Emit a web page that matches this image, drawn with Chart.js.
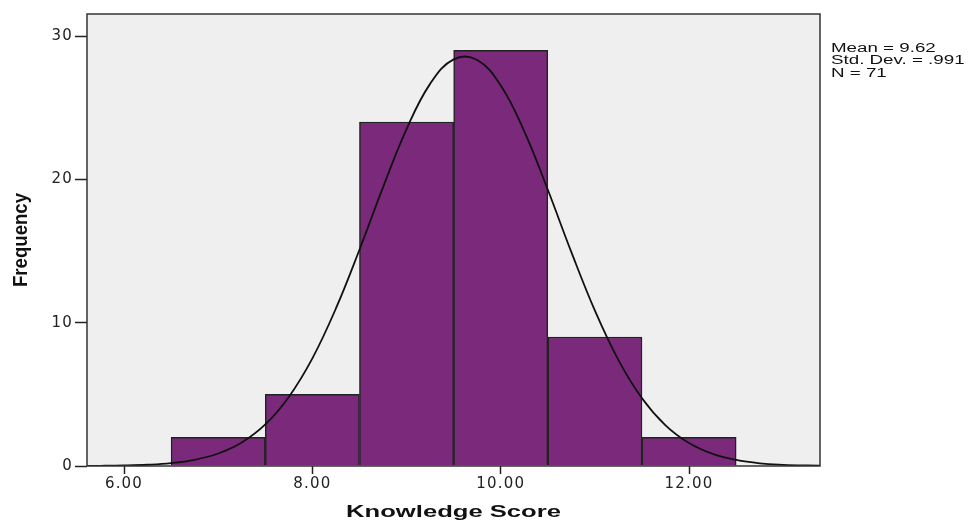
<!DOCTYPE html>
<html>
<head>
<meta charset="utf-8">
<style>
  body { margin: 0; background: #fff; }
  #wrap { width: 969px; height: 523px; }
</style>
<script src="https://cdn.jsdelivr.net/npm/chart.js@4/dist/chart.umd.min.js"></script>
</head>
<body>
<div id="wrap"><canvas id="histChart"></canvas></div>
<script>
// histogram bins (centre of each 1-point bin) and counts
const binCenters = [7, 8, 9, 10, 11, 12];
const frequencies = [2, 5, 24, 29, 9, 2];

// normal curve
const curveX = [5.5, 5.75, 6, 6.25, 6.5, 6.75, 7, 7.25, 7.5, 7.75, 8, 8.25, 8.5, 8.75, 9, 9.25, 9.5,
  9.75, 10, 10.25, 10.5, 10.75, 11, 11.25, 11.5, 11.75, 12, 12.25, 12.5, 12.75, 13, 13.25, 13.5];
const curveY = [0.005, 0.014, 0.036, 0.088, 0.20, 0.43, 0.87, 1.64, 2.90, 4.82, 7.51, 10.99, 15.09, 19.44, 23.50, 26.66, 28.37,
  28.33, 26.55, 23.35, 19.27, 14.92, 10.84, 7.39, 4.73, 2.84, 1.60, 0.84, 0.42, 0.19, 0.085, 0.035, 0.013];

const xTickValues = [6, 8, 10, 12];
const yTickValues = [0, 10, 20, 30];
const xMin = 5.607, xMax = 13.39;
const yMin = 0, yMax = 31.535;

const statLines = ['Mean = 9.62', 'Std. Dev. = .991', 'N = 71'];
const xTitle = 'Knowledge Score';
const yTitle = 'Frequency';

const barPoints = binCenters.map((c, i) => ({ x: c, y: frequencies[i] }));
const curvePoints = curveX.map((x, i) => ({ x: x, y: curveY[i] }));

const frame = {
  id: 'frame',
  beforeDraw(chart) {
    const { ctx, chartArea: a } = chart;
    ctx.save();
    ctx.fillStyle = '#efefef';
    ctx.fillRect(a.left, a.top, a.right - a.left, a.bottom - a.top);
    ctx.restore();
    // wide SPSS-style tick text
    ctx.letterSpacing = '1.2px';
  },
  afterDraw(chart) {
    const { ctx, chartArea: a } = chart;
    ctx.save();
    ctx.letterSpacing = '0px';
    ctx.strokeStyle = '#333';
    ctx.lineWidth = 1.5;
    ctx.strokeRect(a.left, a.top, a.right - a.left, a.bottom - a.top);

    ctx.fillStyle = '#111';

    // x title
    ctx.save();
    ctx.translate((a.left + a.right) / 2, 517);
    ctx.scale(1.6, 1);
    ctx.font = 'bold 16px "Liberation Sans", Arial, sans-serif';
    ctx.textAlign = 'center';
    ctx.textBaseline = 'alphabetic';
    ctx.fillText(xTitle, 0, 0);
    ctx.restore();

    // y title
    ctx.save();
    ctx.translate(27, (a.top + a.bottom) / 2);
    ctx.rotate(-Math.PI / 2);
    ctx.scale(1, 1.13);
    ctx.font = 'bold 18.6px "Liberation Sans", Arial, sans-serif';
    ctx.textAlign = 'center';
    ctx.textBaseline = 'alphabetic';
    ctx.fillText(yTitle, 0, 0);
    ctx.restore();

    // stats box
    ctx.font = '12.5px "Liberation Sans", Arial, sans-serif';
    ctx.textAlign = 'left';
    ctx.textBaseline = 'alphabetic';
    statLines.forEach((line, i) => {
      ctx.save();
      ctx.translate(a.right + 11, 51.7 + i * 12.5);
      ctx.scale(1.5, 1);
      ctx.fillText(line, 0, 0);
      ctx.restore();
    });
    ctx.restore();
  }
};

new Chart(document.getElementById('histChart'), {
  data: {
    datasets: [{
      type: 'line',
      data: curvePoints,
      borderColor: '#111',
      borderWidth: 1.8,
      pointRadius: 0,
      tension: 0.4,
      order: 0
    }, {
      type: 'bar',
      data: barPoints,
      backgroundColor: '#7b297b',
      borderColor: '#222',
      borderWidth: 1.5,
      barPercentage: 1,
      categoryPercentage: 1,
      order: 1
    }]
  },
  options: {
    responsive: true,
    maintainAspectRatio: false,
    devicePixelRatio: 1,
    animation: false,
    layout: { padding: { left: 0, right: 149, top: 14, bottom: 0 } },
    plugins: { legend: { display: false }, tooltip: { enabled: false } },
    scales: {
      x: {
        type: 'linear',
        min: xMin,
        max: xMax,
        offset: false,
        afterBuildTicks: s => { s.ticks = xTickValues.map(v => ({ value: v })); },
        afterFit: s => { s.height = 57; },
        grid: { offset: false, drawOnChartArea: false, drawTicks: true, tickLength: 8, tickColor: '#222', tickWidth: 1.5 },
        border: { display: false },
        ticks: {
          padding: 1,
          color: '#222',
          font: { family: '"DejaVu Sans", sans-serif', size: 15 },
          callback: v => v.toFixed(2),
          maxRotation: 0
        }
      },
      y: {
        type: 'linear',
        min: yMin,
        max: yMax,
        afterBuildTicks: s => { s.ticks = yTickValues.map(v => ({ value: v })); },
        afterFit: s => { s.width = 87; },
        grid: { drawOnChartArea: false, drawTicks: true, tickLength: 12, tickColor: '#222', tickWidth: 1.5 },
        border: { display: false },
        ticks: {
          padding: 2,
          color: '#222',
          font: { family: '"DejaVu Sans", sans-serif', size: 15 }
        }
      }
    }
  },
  plugins: [frame]
});
</script>
</body>
</html>
